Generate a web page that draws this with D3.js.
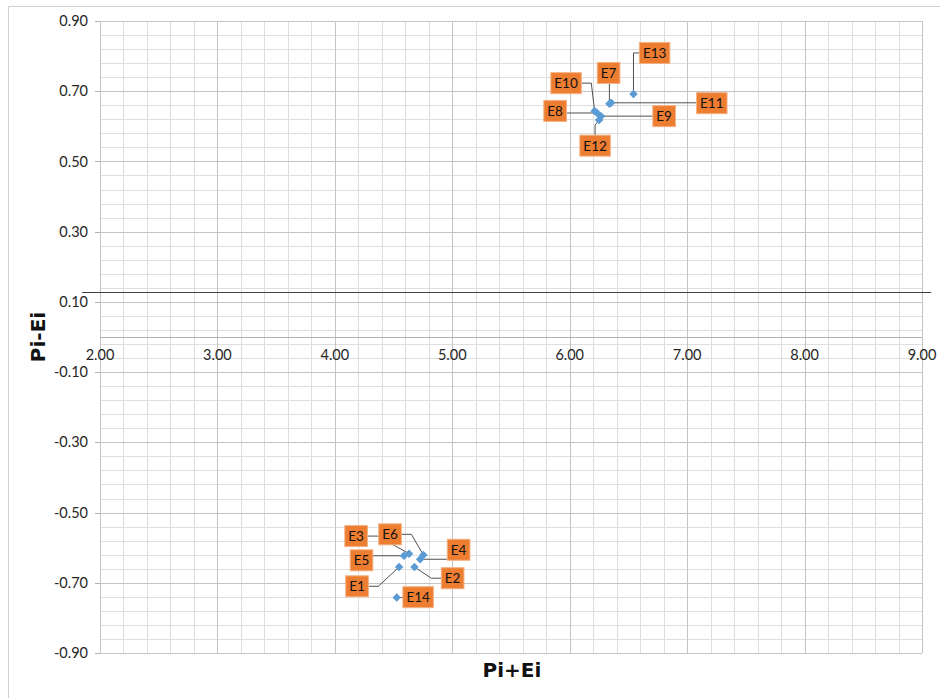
<!DOCTYPE html>
<html>
<head>
<meta charset="utf-8">
<script src="https://cdn.jsdelivr.net/npm/d3@7"></script>
<style>
    body { margin: 0; background: #fff; }
    svg text { font-family: Lato, "Liberation Sans", sans-serif; }
</style>
</head>
<body>
<div id="chart"></div>
<script>
// Pi+Ei vs Pi-Ei scatter
const names = ['E1', 'E2', 'E3', 'E4', 'E5', 'E6', 'E7', 'E8', 'E9', 'E10', 'E11', 'E12', 'E13', 'E14'];
const sumValues = [4.547, 4.678, 4.632, 4.726, 4.589, 4.754, 6.338, 6.233, 6.267, 6.212, 6.353, 6.250, 6.543, 4.527];
const diffValues = [-0.655, -0.655, -0.617, -0.633, -0.623, -0.621, 0.664, 0.638, 0.629, 0.644, 0.667, 0.618, 0.692, -0.742];

const xTicks = [2, 3, 4, 5, 6, 7, 8, 9];
const yTicks = [0.9, 0.7, 0.5, 0.3, 0.1, -0.1, -0.3, -0.5, -0.7, -0.9];

// horizontal reference line drawn across the chart
const refLineY = 0.128;
const refLineX = [1.847, 9.078];

// where the data labels were dragged to (data units)
const labelX = [4.189, 5.003, 4.181, 5.054, 4.227, 4.470, 6.331, 5.876, 6.804, 5.969, 7.210, 6.216, 6.723, 4.709];
const labelY = [-0.710, -0.687, -0.567, -0.606, -0.636, -0.562, 0.752, 0.644, 0.629, 0.723, 0.666, 0.545, 0.809, -0.741];

const width = 940, height = 698;
const margin = { top: 21, right: 18, bottom: 45, left: 100 };

const svg = d3.select('#chart').append('svg')
    .attr('width', width)
    .attr('height', height);

// chart frame
svg.append('path')
    .attr('d', `M8.5,${height}V6.5H${width}`)
    .style('fill', 'none')
    .style('stroke', '#d0d0d0')
    .style('stroke-width', 1);

const xScale = d3.scaleLinear()
    .domain([2, 9])
    .range([margin.left, width - margin.right]);

const yScale = d3.scaleLinear()
    .domain([-0.9, 0.9])
    .range([height - margin.bottom, margin.top]);

const grid = svg.append('g');

// minor grid
const xMinor = d3.range(0, 36).map(i => 2 + i * 0.2);
const yMinor = d3.range(0, 46).map(i => -0.9 + i * 0.04);

grid.selectAll('.xminor')
    .data(xMinor)
    .enter().append('line')
    .attr('x1', d => Math.round(xScale(d)) + 0.5)
    .attr('x2', d => Math.round(xScale(d)) + 0.5)
    .attr('y1', yScale(0.9))
    .attr('y2', yScale(-0.9))
    .style('stroke', '#dedede');

grid.selectAll('.yminor')
    .data(yMinor)
    .enter().append('line')
    .attr('x1', xScale(2))
    .attr('x2', xScale(9))
    .attr('y1', d => Math.round(yScale(d)) + 0.5)
    .attr('y2', d => Math.round(yScale(d)) + 0.5)
    .style('stroke', '#dedede');

// major grid
grid.selectAll('.xmajor')
    .data(xTicks)
    .enter().append('line')
    .attr('x1', d => Math.round(xScale(d)) + 0.5)
    .attr('x2', d => Math.round(xScale(d)) + 0.5)
    .attr('y1', yScale(0.9))
    .attr('y2', yScale(-0.9))
    .style('stroke', '#c4c4c4');

grid.selectAll('.ymajor')
    .data(yTicks)
    .enter().append('line')
    .attr('x1', xScale(2))
    .attr('x2', xScale(9))
    .attr('y1', d => Math.round(yScale(d)) + 0.5)
    .attr('y2', d => Math.round(yScale(d)) + 0.5)
    .style('stroke', '#c4c4c4');

// x axis crosses at 0
const y0 = Math.round(yScale(0)) + 0.5;
svg.append('line')
    .attr('x1', xScale(2))
    .attr('x2', xScale(9))
    .attr('y1', y0)
    .attr('y2', y0)
    .style('stroke', '#b0b0b0');

// y tick marks + labels
const yAxis = svg.append('g');
yAxis.selectAll('.ytick')
    .data(yTicks)
    .enter().append('line')
    .attr('x1', xScale(2) - 5)
    .attr('x2', xScale(2))
    .attr('y1', d => Math.round(yScale(d)) + 0.5)
    .attr('y2', d => Math.round(yScale(d)) + 0.5)
    .style('stroke', '#b0b0b0');

yAxis.selectAll('.ylabel')
    .data(yTicks)
    .enter().append('text')
    .attr('x', xScale(2) - 12)
    .attr('y', d => yScale(d))
    .attr('dy', '0.35em')
    .style('text-anchor', 'end')
    .style('font-size', '14.5px')
    .style('fill', '#262626')
    .text(d => d.toFixed(2));

svg.append('g').selectAll('.xlabel')
    .data(xTicks)
    .enter().append('text')
    .attr('x', d => xScale(d))
    .attr('y', yScale(0) + 18)
    .attr('dy', '0.35em')
    .style('text-anchor', 'middle')
    .style('font-size', '14.5px')
    .style('fill', '#262626')
    .text(d => d.toFixed(2));

// reference line
svg.append('line')
    .attr('x1', xScale(refLineX[0]))
    .attr('x2', xScale(refLineX[1]))
    .attr('y1', Math.round(yScale(refLineY)) + 0.5)
    .attr('y2', Math.round(yScale(refLineY)) + 0.5)
    .style('stroke', '#404040')
    .style('stroke-width', 1);

// axis titles
svg.append('text')
    .attr('transform', `translate(38,${yScale(0)}) rotate(-90)`)
    .attr('dy', '0.35em')
    .style('text-anchor', 'middle')
    .style('font-family', '"DejaVu Sans", sans-serif')
    .style('font-size', '20px')
    .style('font-weight', 'bold')
    .style('fill', '#111')
    .text('Pi-Ei');

svg.append('text')
    .attr('x', 512)
    .attr('y', 670)
    .attr('dy', '0.35em')
    .style('text-anchor', 'middle')
    .style('font-family', '"DejaVu Sans", sans-serif')
    .style('font-size', '20px')
    .style('font-weight', 'bold')
    .style('fill', '#111')
    .text('Pi+Ei');

const points = names.map((n, i) => ({
    name: n,
    x: sumValues[i],
    y: diffValues[i],
    lx: labelX[i],
    ly: labelY[i]
}));

// labels first measured so leaders can attach to box edges
const leaderG = svg.append('g');
const markerG = svg.append('g');
const boxG = svg.append('g');

points.forEach(p => {
    const cx = xScale(p.lx), cy = yScale(p.ly);
    const g = boxG.append('g');
    const txt = g.append('text')
        .attr('x', cx)
        .attr('y', cy)
        .attr('dy', '0.36em')
        .style('text-anchor', 'middle')
        .style('font-size', '13.5px')
        .style('fill', '#111')
        .text(p.name);
    const w = txt.node().getComputedTextLength() + 7;
    const h = 21;
    g.insert('rect', 'text')
        .attr('x', cx - w / 2)
        .attr('y', cy - h / 2)
        .attr('width', w)
        .attr('height', h)
        .style('fill', '#ED7D31')
        .style('stroke', '#f4b183')
        .style('stroke-width', 1);

    // leader line
    const px = xScale(p.x), py = yScale(p.y);
    const left = cx - w / 2, right = cx + w / 2, top = cy - h / 2, bottom = cy + h / 2;
    let pts = null;
    if (px < left - 4) {
        const e = Math.min(left - px, 10);
        pts = (py > top && py < bottom) ? [[left, py], [px, py]] : [[left, cy], [left - e, cy], [px, py]];
    } else if (px > right + 4) {
        const e = Math.min(px - right, 10);
        pts = (py > top && py < bottom) ? [[right, py], [px, py]] : [[right, cy], [right + e, cy], [px, py]];
    } else if (py > bottom + 4) {
        pts = [[px, bottom], [px, py]];
    } else if (py < top - 4) {
        pts = [[cx, top], [cx, top - 10], [px, py]];
    }
    if (pts) {
        leaderG.append('path')
            .attr('d', d3.line()(pts))
            .style('fill', 'none')
            .style('stroke', '#505050')
            .style('stroke-width', 1);
    }
});

// markers
markerG.selectAll('path')
    .data(points)
    .enter().append('path')
    .attr('d', d3.symbol().type(d3.symbolSquare).size(36))
    .attr('transform', d => `translate(${xScale(d.x)},${yScale(d.y)}) rotate(45)`)
    .style('fill', '#5B9BD5');
</script>
</body>
</html>
